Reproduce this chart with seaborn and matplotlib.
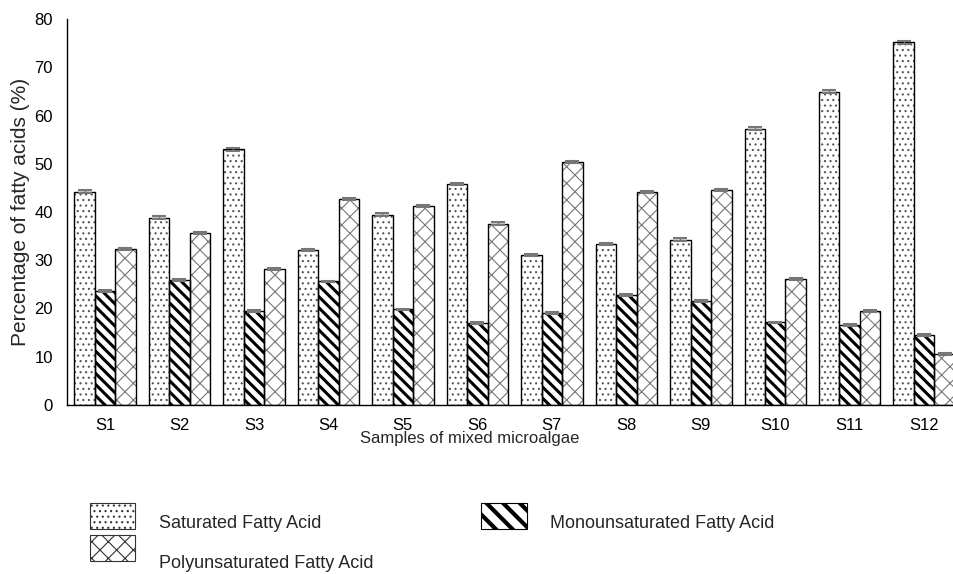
import numpy as np
import pandas as pd
import matplotlib
matplotlib.use("Agg")
import matplotlib.pyplot as plt
import matplotlib.transforms as mtransforms
import seaborn as sns
from matplotlib.patches import Patch, Rectangle

sns.set_style("white")
plt.rcParams['font.family'] = ['Liberation Sans', 'DejaVu Sans']
plt.rcParams['hatch.linewidth'] = 0.8

# Data
samples = ['S1', 'S2', 'S3', 'S4', 'S5', 'S6', 'S7', 'S8', 'S9', 'S10', 'S11', 'S12']
saturated = [44.2, 38.8, 53.0, 32.1, 39.4, 45.8, 31.0, 33.3, 34.3, 57.3, 64.9, 75.2]
monounsat = [23.7, 25.9, 19.4, 25.6, 19.8, 17.0, 19.1, 22.8, 21.6, 17.1, 16.5, 14.6]
polyunsat = [32.4, 35.7, 28.2, 42.7, 41.2, 37.6, 50.3, 44.2, 44.5, 26.1, 19.4, 10.6]
err_sat = [0.3, 0.3, 0.3, 0.2, 0.3, 0.3, 0.2, 0.2, 0.3, 0.3, 0.3, 0.3]
err_mono = [0.2, 0.2, 0.2, 0.2, 0.2, 0.2, 0.2, 0.2, 0.2, 0.2, 0.2, 0.2]
err_poly = [0.2, 0.2, 0.2, 0.2, 0.2, 0.3, 0.2, 0.2, 0.2, 0.2, 0.2, 0.2]

tipos = ['Saturated Fatty Acid', 'Monounsaturated Fatty Acid', 'Polyunsaturated Fatty Acid']
df = pd.DataFrame({
    'sample': samples * 3,
    'valor': saturated + monounsat + polyunsat,
    'tipo': [tipos[0]] * 12 + [tipos[1]] * 12 + [tipos[2]] * 12,
})
erros = [err_sat, err_mono, err_poly]

hatches = ['...', '\\\\\\', 'xx']
hatch_cor = ['#555555', 'black', '#777777']
hatch_lw = [0.8, 2.2, 0.8]

fig = plt.figure(figsize=(9.54, 5.74), dpi=100)
ax = fig.add_axes([67 / 954, 1 - 405 / 574, 887 / 954, 386 / 574])

sns.barplot(data=df, x='sample', y='valor', hue='tipo', hue_order=tipos,
            palette=['white'] * 3, width=0.825, gap=0, errorbar=None,
            legend=False, ax=ax)

barras = list(ax.containers)
for i, cont in enumerate(barras):
    xs = []
    for p in cont.patches:
        p.set_hatch(hatches[i])
        p.set_edgecolor(hatch_cor[i])
        p.set_linewidth(0)
        if hasattr(p, 'set_hatch_linewidth'):
            p.set_hatch_linewidth(hatch_lw[i])
        ax.add_patch(Rectangle((p.get_x(), 0), p.get_width(), p.get_height(),
                               fill=False, edgecolor='black', linewidth=1.0, zorder=3))
        xs.append(p.get_x() + p.get_width() / 2)
    alturas = [p.get_height() for p in cont.patches]
    ax.errorbar(xs, alturas, yerr=erros[i], fmt='none', ecolor='#777777',
                elinewidth=1, capsize=5, capthick=1.5, zorder=4)

ax.set_xlim(-0.51, 11.40)
ax.set_ylim(0, 80)
ax.set_yticks(range(0, 81, 10))
ax.tick_params(axis='both', length=0, labelsize=12, colors='black')
ax.tick_params(axis='y', pad=10)
ax.tick_params(axis='x', pad=9)

sns.despine(ax=ax)
for s in ['left', 'bottom']:
    ax.spines[s].set_color('black')
    ax.spines[s].set_linewidth(1.0)

ax.set_xlabel('Samples of mixed microalgae', fontsize=12)
ax.set_ylabel('Percentage of fatty acids (%)', fontsize=15)
ax.xaxis.set_label_coords((470 - 67) / 887, -0.068)
ax.yaxis.set_label_coords(-0.042, 0.5)

# Legenda
leg_hatches = ['...', '\\\\', 'xx']
leg_lw = [0.8, 3.0, 0.8]
handles = []
for i in range(3):
    hp = Patch(facecolor='white', edgecolor=hatch_cor[i], hatch=leg_hatches[i], linewidth=0)
    handles.append(hp)
ordem = [0, 2, 1]
leg = fig.legend([handles[k] for k in ordem], [tipos[k] for k in ordem],
                 loc='upper left', bbox_to_anchor=(90 / 954, 1 - 503 / 574),
                 ncol=2, frameon=False, fontsize=13, handlelength=2.5,
                 handleheight=1.84, handletextpad=1.3, columnspacing=6.0,
                 labelspacing=0.33, borderpad=0, borderaxespad=0)
for i, k in enumerate(ordem):
    h = leg.legend_handles[i]
    if hasattr(h, 'set_hatch_linewidth'):
        h.set_hatch_linewidth(leg_lw[k])
    h.set_edgecolor('black' if k == 1 else '#333333')
    h.set_linewidth(0.8)

# texto da legenda um pouco abaixo do centro da caixa, como no original
desloc_px = [6, 14, 6]
for t, d in zip(leg.get_texts(), desloc_px):
    desloc = mtransforms.ScaledTranslation(0, -d / 100, fig.dpi_scale_trans)
    t.set_transform(t.get_transform() + desloc)

fig.savefig('out.png', dpi=100)
